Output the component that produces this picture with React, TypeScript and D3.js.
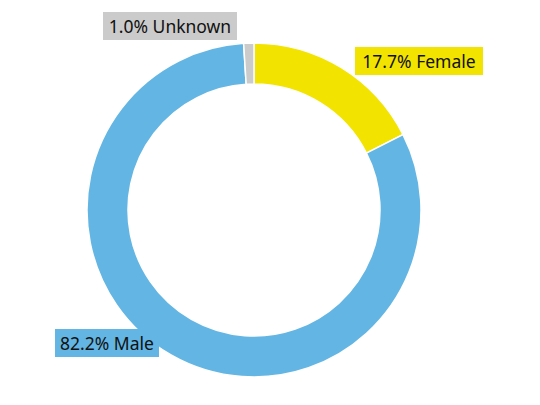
import React from "react";
import * as d3 from "d3";

const WIDTH = 540;
const HEIGHT = 405;
const CENTER = { x: 254, y: 210 };
const OUTER_R = 167;
const INNER_R = 126;

// slices, clockwise from 12 o'clock
const categories = ["Female", "Male", "Unknown"];
const shares = [17.7, 82.2, 1.0];
const colors = ["#f2e400", "#63b5e3", "#cbcbcb"];

// label boxes (left, top, width) in page coords
const LABEL_BOX: Record<string, { x: number; y: number; w: number }> = {
  Female: { x: 355, y: 47, w: 128 },
  Male: { x: 55, y: 329, w: 104 },
  Unknown: { x: 103, y: 12, w: 134 },
};
const BOX_H = 28;

export default function App() {
  const pie = d3
    .pie<number>()
    .sort(null)
    .value((d) => d);
  const arcs = pie(shares);
  const arc = d3.arc<d3.PieArcDatum<number>>().innerRadius(INNER_R).outerRadius(OUTER_R);

  return (
    <svg width={WIDTH} height={HEIGHT} style={{ position: "absolute", left: 0, top: 0 }}>
      <rect width={WIDTH} height={HEIGHT} fill="#ffffff" />
      <g transform={`translate(${CENTER.x},${CENTER.y})`}>
        {arcs.map((a, i) => (
          <path key={categories[i]} d={arc(a) ?? ""} fill={colors[i]} stroke="#ffffff" strokeWidth={1.5} />
        ))}
      </g>
      {arcs.map((a, i) => {
        const box = LABEL_BOX[categories[i]];
        return (
          <g key={"l" + categories[i]}>
            <rect x={box.x} y={box.y} width={box.w} height={BOX_H} fill={colors[i]} />
            <text
              x={box.x + box.w / 2}
              y={box.y + BOX_H / 2}
              textAnchor="middle"
              dominantBaseline="central"
              fontFamily="'Noto Sans', sans-serif"
              fontSize={17.5}
              fill="#111111"
            >
              {`${shares[i].toFixed(1)}% ${categories[i]}`}
            </text>
          </g>
        );
      })}
    </svg>
  );
}
